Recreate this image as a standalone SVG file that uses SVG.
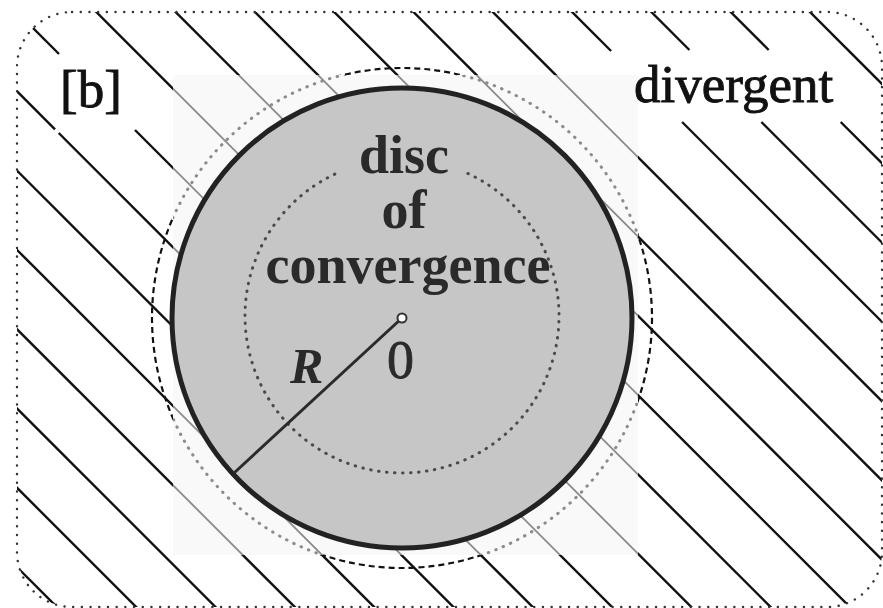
<svg xmlns="http://www.w3.org/2000/svg" xmlns:xlink="http://www.w3.org/1999/xlink" width="883" height="608" viewBox="0 0 883 608">
<style>
.hl{stroke-linecap:butt}
.lbl{font-family:"Liberation Serif","Times New Roman",serif;}
.inner{font-family:"Liberation Serif","Times New Roman",serif;font-weight:bold;font-size:54px;fill:#2a2a2a;text-anchor:middle}
</style>
<defs>
<clipPath id="outerClip"><rect x="17" y="12" width="865" height="595" rx="55" ry="55"/></clipPath>
<clipPath id="pasteClip"><rect x="173" y="75" width="465" height="480"/></clipPath>
<clipPath id="outsidePaste"><path d="M0 0H883V608H0Z M173 75V555H638V75Z" clip-rule="evenodd"/></clipPath>
<g id="hatch" class="hl">
<line x1="-550.1" y1="0" x2="59.9" y2="610"/>
<line x1="-470.8" y1="0" x2="139.2" y2="610"/>
<line x1="-391.5" y1="0" x2="218.5" y2="610"/>
<line x1="-312.2" y1="0" x2="297.8" y2="610"/>
<line x1="-232.9" y1="0" x2="377.1" y2="610"/>
<line x1="-153.6" y1="0" x2="456.4" y2="610"/>
<line x1="-74.3" y1="0" x2="55" y2="129.3"/>
<line x1="58.7" y1="133" x2="535.7" y2="610"/>
<line x1="5" y1="0" x2="59" y2="54"/>
<line x1="135" y1="130" x2="615" y2="610"/>
<line x1="84.3" y1="0" x2="694.3" y2="610"/>
<line x1="163.6" y1="0" x2="773.6" y2="610"/>
<line x1="242.9" y1="0" x2="852.9" y2="610"/>
<line x1="322.2" y1="0" x2="932.2" y2="610"/>
<line x1="401.5" y1="0" x2="1011.5" y2="610"/>
<line x1="480.8" y1="0" x2="1090.8" y2="610"/>
<line x1="560.1" y1="0" x2="611.1" y2="51"/>
<line x1="682.1" y1="122" x2="1170.1" y2="610"/>
<line x1="639.4" y1="0" x2="689.4" y2="50"/>
<line x1="761.4" y1="122" x2="1249.4" y2="610"/>
<line x1="718.7" y1="0" x2="768.7" y2="50"/>
<line x1="840.7" y1="122" x2="1328.7" y2="610"/>
<line x1="798" y1="0" x2="1408" y2="610"/>
</g>
</defs>
<rect x="0" y="0" width="883" height="608" fill="#ffffff"/>
<g id="hatching-outer" clip-path="url(#outerClip)">
<use xlink:href="#hatch" stroke="#111" stroke-width="2.4"/>
</g>
<g id="scan-patch">
<rect x="173" y="75" width="465" height="480" fill="#f9f9f9"/>
<g clip-path="url(#pasteClip)">
<use xlink:href="#hatch" stroke="#8a8a8a" stroke-width="1.8"/>
</g>
</g>
<g id="outer-circle">
<circle cx="402" cy="318" r="250" fill="none" stroke="#111" stroke-width="2.2" stroke-dasharray="6 4" clip-path="url(#outsidePaste)"/>
<circle cx="402" cy="318" r="250" fill="none" stroke="#8c8c8c" stroke-width="3" stroke-linecap="round" stroke-dasharray="0.5 7.5" clip-path="url(#pasteClip)"/>
</g>
<g id="disc">
<circle cx="402" cy="318" r="230" fill="#c6c6c6" stroke="#222" stroke-width="5"/>
<path d="M467.9 173.5 A157 157 0 1 1 339.7 171.9" fill="none" stroke="#4a4a4a" stroke-width="3" stroke-linecap="round" stroke-dasharray="0.5 7.5"/>
<line x1="402" y1="318" x2="234" y2="473" stroke="#2a2a2a" stroke-width="3"/>
<circle cx="402" cy="318" r="4.5" fill="#ffffff" stroke="#333" stroke-width="2"/>
<text class="inner" x="404" y="173">disc</text>
<text class="inner" x="404" y="228">of</text>
<text class="inner" x="408" y="283">convergence</text>
<text class="lbl" x="290" y="383" font-size="50" font-weight="bold" font-style="italic" fill="#2a2a2a">R</text>
<text class="lbl" x="387" y="378" font-size="54" fill="#2a2a2a" stroke="#2a2a2a" stroke-width="0.8">0</text>
</g>
<g id="labels">
<text class="lbl" x="60" y="107" font-size="53" fill="#111" stroke="#111" stroke-width="0.9">[b]</text>
<text class="lbl" x="634" y="102" font-size="53" fill="#111" stroke="#111" stroke-width="0.9">divergent</text>
</g>
<g id="border">
<rect x="17" y="12" width="865" height="595" rx="55" ry="55" fill="none" stroke="#333" stroke-width="2.4" stroke-linecap="round" stroke-dasharray="0.1 8.6"/>
</g>
</svg>
